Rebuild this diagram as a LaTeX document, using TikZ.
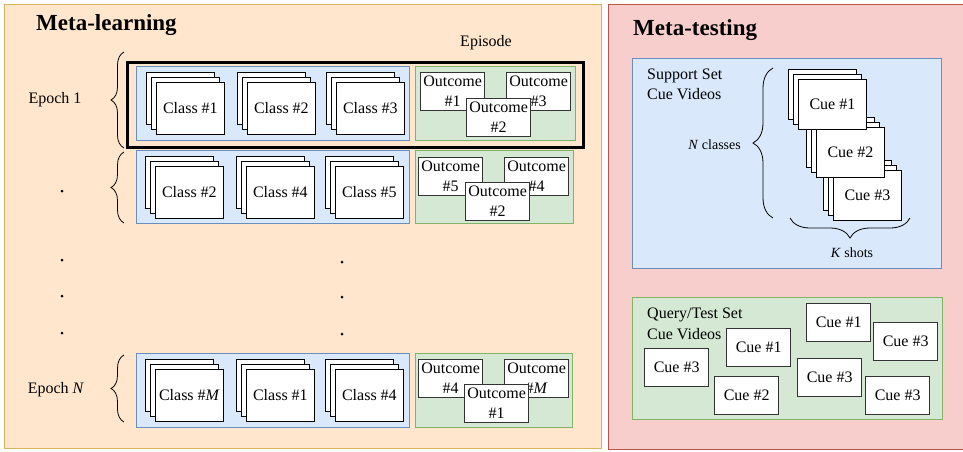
\documentclass[tikz,border=0pt]{standalone}
\usepackage{fontspec}
\setmainfont{Liberation Serif}
\usetikzlibrary{decorations.pathreplacing}
\definecolor{orfill}{HTML}{FFE6CC}
\definecolor{ordraw}{HTML}{D6B656}
\definecolor{rdfill}{HTML}{F8CECC}
\definecolor{rddraw}{HTML}{B85450}
\definecolor{blfill}{HTML}{DAE8FC}
\definecolor{bldraw}{HTML}{6C8EBF}
\definecolor{gnfill}{HTML}{D5E8D4}
\definecolor{gndraw}{HTML}{82B366}
\newcommand\fsx{\fontsize{16}{20}\selectfont}
\newcommand\fsy{\fontsize{14}{17}\selectfont}
\newcommand\fst{\fontsize{23}{27}\selectfont\bfseries}
\tikzset{
  box/.style={anchor=north west, inner sep=0pt, line width=1pt},
  card/.style={draw=black, fill=white, line width=0.8pt, minimum width=68pt,
    minimum height=52pt, inner sep=0pt, anchor=north west, font=\fsx},
  cuecard/.style={card, minimum height=50pt},
  outbox/.style={draw=black!80, fill=white, line width=1.3pt, minimum width=64pt,
    minimum height=38pt, anchor=north west, align=center, inner sep=0pt, font=\fsx},
  lbl/.style={inner sep=0pt, font=\fsx},
  dotc/.style={circle, fill=black, inner sep=0pt, minimum size=3pt},
  bracedec/.style={decorate, line width=0.8pt},
}
\newcommand\clstack[4]{%
  \node[card] (#1b) at (#2,#3) {};
  \node[card] (#1m) at ({#2+5},{#3+5}) {};
  \node[card] (#1f) at ({#2+10},{#3+10}) {#4};
}
\newcommand\custack[4]{%
  \node[cuecard] (#1b) at (#2,#3) {};
  \node[cuecard] (#1m) at ({#2+5},{#3+5}) {};
  \node[cuecard] (#1f) at ({#2+10},{#3+10}) {#4};
}
\begin{document}
\begin{tikzpicture}[x=1pt,y=-1pt]
\useasboundingbox (0,0) rectangle (963,451);
% panels
\node[box, draw=ordraw, fill=orfill, minimum width=597pt, minimum height=444pt] (learn) at (4,4) {};
\node[box, draw=rddraw, fill=rdfill, minimum width=360pt, minimum height=445pt] (test) at (608,4) {};
\node[lbl, font=\fst, anchor=west] (t1) at (36,25) {Meta-learning};
\node[lbl, font=\fst, anchor=west] (t2) at (633,30) {Meta-testing};
\node[lbl] (episode) at (486,43) {Episode};
% episode box
\node[box, draw=black, line width=2.8pt, minimum width=456pt, minimum height=85pt] (epbox) at (126,61) {};
% row 1
\node[box, draw=bldraw, fill=blfill, minimum width=273pt, minimum height=74pt] (b1) at (136,66) {};
\node[box, draw=gndraw, fill=gnfill, minimum width=160pt, minimum height=74pt] (g1) at (415,66) {};
\clstack{ra}{146}{72}{Class \#1}
\clstack{rb}{237}{72}{Class \#2}
\clstack{rc}{326}{72}{Class \#3}
\node[outbox] (o11) at (420,72) {Outcome\\\#1};
\node[outbox] (o13) at (506,72) {Outcome\\\#3};
\node[outbox] (o12) at (466,98) {Outcome\\\#2};
% row 2
\node[box, draw=bldraw, fill=blfill, minimum width=273pt, minimum height=73pt] (b2) at (136,150) {};
\node[box, draw=gndraw, fill=gnfill, minimum width=158pt, minimum height=73pt] (g2) at (415,150) {};
\clstack{sa}{145}{156}{Class \#2}
\clstack{sb}{236}{156}{Class \#4}
\clstack{sc}{325}{156}{Class \#5}
\node[outbox] (o25) at (418,157) {Outcome\\\#5};
\node[outbox] (o24) at (504,157) {Outcome\\\#4};
\node[outbox] (o22) at (465,182) {Outcome\\\#2};
% row N
\node[box, draw=bldraw, fill=blfill, minimum width=273pt, minimum height=74pt] (b3) at (136,353) {};
\node[box, draw=gndraw, fill=gnfill, minimum width=157pt, minimum height=74pt] (g3) at (415,353) {};
\clstack{ta}{145}{359}{Class \#\textit{M}}
\clstack{tb}{236}{359}{Class \#1}
\clstack{tc}{325}{359}{Class \#4}
\node[outbox] (o34) at (418,359) {Outcome\\\#4};
\node[outbox] (o3M) at (504,359) {Outcome\\\#\textit{M}};
\node[outbox] (o31) at (464,384) {Outcome\\\#1};
% labels and braces
\node[lbl] (ep1) at (55,100) {Epoch 1};
\node[lbl] (epN) at (56,390) {Epoch \textit{N}};
\node[dotc] (d0) at (62,191) {};
\node[dotc] (d1) at (62,260) {};
\node[dotc] (d2) at (62,296) {};
\node[dotc] (d3) at (62,333) {};
\node[dotc] (d4) at (342,262) {};
\node[dotc] (d5) at (342,297) {};
\node[dotc] (d6) at (342,334) {};
\draw[bracedec, decoration={brace, amplitude=13pt}] (124,148) -- (124,52);
\draw[bracedec, decoration={brace, amplitude=13pt}] (124,223) -- (124,152);
\draw[bracedec, decoration={brace, amplitude=13pt}] (124,422) -- (124,355);
% support set
\node[box, draw=bldraw, fill=blfill, minimum width=309pt, minimum height=210pt] (sup) at (632,58) {};
\node[lbl, anchor=north west, align=left] (suptxt) at (647,69) {Support Set\\Cue Videos};
\custack{cc}{823}{160}{Cue \#3}
\custack{cb}{806}{117}{Cue \#2}
\custack{ca}{788}{69}{Cue \#1}
\draw[bracedec, decoration={brace, amplitude=20pt}] (773,218) -- (773,68);
\node[lbl, font=\fsy, anchor=east] (ncl) at (741,145) {\textit{N} classes};
\draw[bracedec, decoration={brace, amplitude=20pt}] (910,218) -- (790,218);
\node[lbl, font=\fsy] (ksh) at (852,253) {\textit{K} shots};
% query set
\node[box, draw=gndraw, fill=gnfill, minimum width=310pt, minimum height=122pt] (qry) at (632,297) {};
\node[lbl, anchor=north west, align=left, font=\fontsize{16}{21}\selectfont] (qtxt) at (647,308) {Query/Test Set\\Cue Videos};
\node[outbox] (q1) at (644,348) {Cue \#3};
\node[outbox] (q2) at (726,328) {Cue \#1};
\node[outbox] (q3) at (714,376) {Cue \#2};
\node[outbox] (q4) at (806,303) {Cue \#1};
\node[outbox] (q5) at (797,358) {Cue \#3};
\node[outbox] (q6) at (873,322) {Cue \#3};
\node[outbox] (q7) at (865,376) {Cue \#3};
\end{tikzpicture}
\end{document}
